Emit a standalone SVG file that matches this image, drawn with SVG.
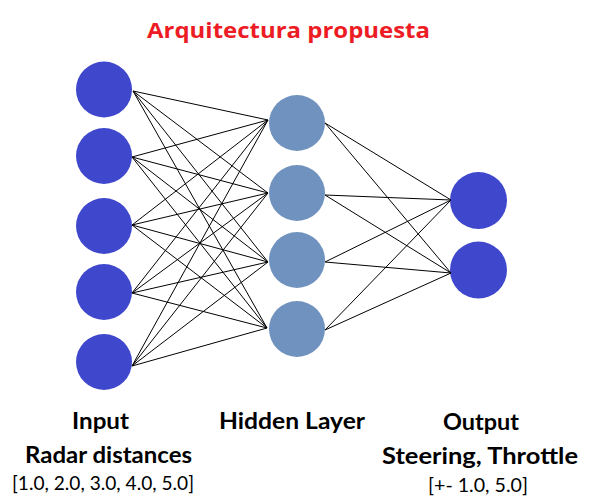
<svg xmlns="http://www.w3.org/2000/svg" width="593" height="501" viewBox="0 0 593 501">
<style>
.in{fill:#3F48CC}
.hid{fill:#7092BE}
.out{fill:#3F48CC}
.c line{stroke:#000;stroke-width:1}
.t{font-family:Lato,"Liberation Sans",sans-serif;font-weight:bold;font-size:23px;fill:#000;text-anchor:middle}
.r{font-family:Lato,"Liberation Sans",sans-serif;font-size:18.5px;fill:#000;text-anchor:middle}
.title{font-family:"Open Sans","Liberation Sans",sans-serif;font-weight:bold;font-size:21px;fill:#ED1C24;text-anchor:middle}
</style>
<rect width="593" height="501" fill="#fff"/>
<text class="title" x="288.5" y="38" textLength="283" lengthAdjust="spacingAndGlyphs">Arquitectura propuesta</text>
<g id="nodes-input">
<g id="in1"><circle class="in" cx="104" cy="89.5" r="28"/></g>
<g id="in2"><circle class="in" cx="104" cy="156" r="28"/></g>
<g id="in3"><circle class="in" cx="104" cy="226" r="28"/></g>
<g id="in4"><circle class="in" cx="104" cy="292" r="28"/></g>
<g id="in5"><circle class="in" cx="104" cy="362" r="28"/></g>
</g>
<g id="nodes-hidden">
<g id="h1"><circle class="hid" cx="297" cy="123" r="28"/></g>
<g id="h2"><circle class="hid" cx="297" cy="193" r="28"/></g>
<g id="h3"><circle class="hid" cx="297" cy="260" r="28"/></g>
<g id="h4"><circle class="hid" cx="297" cy="329" r="28"/></g>
</g>
<g id="nodes-output">
<g id="o1"><circle class="out" cx="478.5" cy="200.5" r="28.5"/></g>
<g id="o2"><circle class="out" cx="478.5" cy="270" r="28.5"/></g>
</g>
<g id="connectors" class="c">
<line x1="133" y1="91" x2="268" y2="120"/>
<line x1="133" y1="91" x2="268" y2="193"/>
<line x1="133" y1="91" x2="268" y2="262"/>
<line x1="133" y1="91" x2="267" y2="328"/>
<line x1="132" y1="157" x2="268" y2="120"/>
<line x1="132" y1="157" x2="268" y2="193"/>
<line x1="132" y1="157" x2="268" y2="262"/>
<line x1="132" y1="157" x2="267" y2="328"/>
<line x1="132" y1="225" x2="268" y2="120"/>
<line x1="132" y1="225" x2="268" y2="193"/>
<line x1="132" y1="225" x2="268" y2="262"/>
<line x1="132" y1="225" x2="267" y2="328"/>
<line x1="132" y1="293" x2="268" y2="120"/>
<line x1="132" y1="293" x2="268" y2="193"/>
<line x1="132" y1="293" x2="268" y2="262"/>
<line x1="132" y1="293" x2="267" y2="328"/>
<line x1="132" y1="366" x2="268" y2="120"/>
<line x1="132" y1="366" x2="268" y2="193"/>
<line x1="132" y1="366" x2="268" y2="262"/>
<line x1="132" y1="366" x2="267" y2="328"/>
<line x1="325" y1="123" x2="451" y2="200"/>
<line x1="325" y1="123" x2="451" y2="273"/>
<line x1="325" y1="195" x2="451" y2="200"/>
<line x1="325" y1="195" x2="451" y2="273"/>
<line x1="325" y1="262" x2="451" y2="200"/>
<line x1="325" y1="262" x2="451" y2="273"/>
<line x1="325" y1="330" x2="451" y2="200"/>
<line x1="325" y1="330" x2="451" y2="273"/>
</g>
<g id="labels">
<text class="t" x="100.5" y="429" textLength="57" lengthAdjust="spacingAndGlyphs">Input</text>
<text class="t" x="108.5" y="463" textLength="167" lengthAdjust="spacingAndGlyphs">Radar distances</text>
<text class="r" x="103" y="490" textLength="182" lengthAdjust="spacingAndGlyphs">[1.0, 2.0, 3.0, 4.0, 5.0]</text>
<text class="t" x="292" y="429" textLength="146" lengthAdjust="spacingAndGlyphs">Hidden Layer</text>
<text class="t" x="481" y="430" textLength="76" lengthAdjust="spacingAndGlyphs">Output</text>
<text class="t" x="480" y="464" textLength="196" lengthAdjust="spacingAndGlyphs">Steering, Throttle</text>
<text class="r" x="478" y="492" textLength="100" lengthAdjust="spacingAndGlyphs">[+- 1.0, 5.0]</text>
</g>
</svg>
